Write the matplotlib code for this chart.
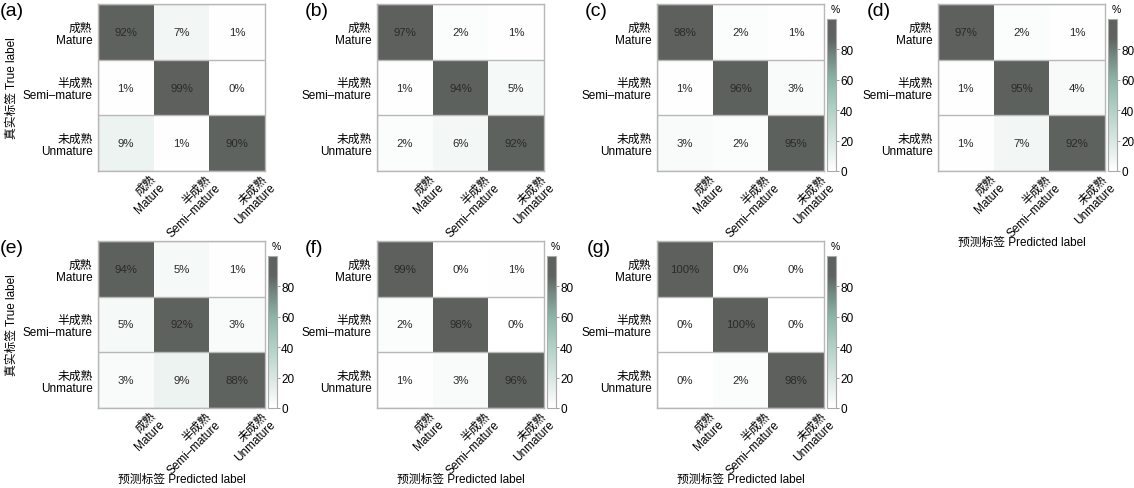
import numpy as np
import matplotlib
matplotlib.use("Agg")
import matplotlib.pyplot as plt
from matplotlib.colors import LinearSegmentedColormap
from matplotlib.transforms import ScaledTranslation

plt.rcParams['font.family'] = ['Liberation Sans', 'Noto Sans CJK SC', 'DejaVu Sans']

# ---- data ----
panel_labels = ['(a)', '(b)', '(c)', '(d)', '(e)', '(f)', '(g)']
class_labels = ['成熟\nMature', '半成熟\nSemi–mature', '未成熟\nUnmature']
cm_a = [[92, 7, 1], [1, 99, 0], [9, 1, 90]]
cm_b = [[97, 2, 1], [1, 94, 5], [2, 6, 92]]
cm_c = [[98, 2, 1], [1, 96, 3], [3, 2, 95]]
cm_d = [[97, 2, 1], [1, 95, 4], [1, 7, 92]]
cm_e = [[94, 5, 1], [5, 92, 3], [3, 9, 88]]
cm_f = [[99, 0, 1], [2, 98, 0], [1, 3, 96]]
cm_g = [[100, 0, 0], [0, 100, 0], [0, 2, 98]]
matrices = [cm_a, cm_b, cm_c, cm_d, cm_e, cm_f, cm_g]
cbar_ticks = [0, 20, 40, 60, 80]
ylabel_text = '真实标签 True label'
xlabel_text = '预测标签 Predicted label'

# ---- layout (pixels) ----
W, H = 1134, 489
fig = plt.figure(figsize=(W / 100, H / 100), dpi=100)

cmap = LinearSegmentedColormap.from_list('cm', [
    (0.0, '#ffffff'), (0.2, '#d8e6e1'), (0.4, '#b2d1c6'),
    (0.6, '#8cb5a7'), (0.75, '#748a82'), (0.87, '#5f6460'), (1.0, '#5d605d')])

lefts = [98, 377, 657, 938, 98, 377, 657]
tops = [5, 5, 5, 5, 242, 242, 242]
label_dx = [98, 72, 72, 71, 98, 72, 70]
size = 167
has_cbar = [False, False, True, True, True, True, True]
has_ylabel = [True, False, False, False, True, False, False]
has_xlabel = [False, False, False, True, True, True, True]
grid_col = '#b8b8b8'
fs = 8.5

def fr(x, y, w, h):
    return [x / W, 1 - (y + h) / H, w / W, h / H]

shift = ScaledTranslation(-4 / 100, 0 / 100, fig.dpi_scale_trans)

for k, mat in enumerate(matrices):
    m = np.array(mat, dtype=float)
    ax = fig.add_axes(fr(lefts[k], tops[k], size, size))
    im = ax.imshow(m, cmap=cmap, vmin=0, vmax=100, aspect='auto')
    for i in range(3):
        for j in range(3):
            ax.text(j, i, f'{int(m[i, j])}%', ha='center', va='center',
                    fontsize=8.2, color='#2a2a2a')
    ax.set_xticks(np.arange(-0.5, 3, 1), minor=True)
    ax.set_yticks(np.arange(-0.5, 3, 1), minor=True)
    ax.grid(which='minor', color=grid_col, lw=1)
    ax.tick_params(which='both', length=0)
    ax.set_xticks([0.5, 1.5, 2.5])
    ax.set_xticklabels(class_labels, rotation=45, ha='right', va='top',
                       rotation_mode='anchor', fontsize=fs, linespacing=1.05)
    ax.set_yticks([0, 1, 2])
    ax.set_yticklabels(class_labels, fontsize=fs, linespacing=1.05,
                       multialignment='right')
    ax.tick_params(axis='y', pad=4)
    ax.tick_params(axis='x', pad=1)
    for lab in ax.get_xticklabels():
        lab.set_transform(lab.get_transform() + shift)
    for s in ax.spines.values():
        s.set_color(grid_col)
        s.set_linewidth(1)
    fig.text((lefts[k] - label_dx[k]) / W, 1 - (tops[k] - 2) / H,
             panel_labels[k], fontsize=14, ha='left', va='top')
    if has_ylabel[k]:
        ax.set_ylabel(ylabel_text, fontsize=fs, va='center')
        ax.yaxis.set_label_coords(-0.515, 0.5)
    if has_xlabel[k]:
        ax.set_xlabel(xlabel_text, fontsize=fs, va='center')
        ax.xaxis.set_label_coords(0.5, -0.425)
    if has_cbar[k]:
        cax = fig.add_axes(fr(lefts[k] + size + 3, tops[k] + 15, 9, size - 15))
        cb = fig.colorbar(im, cax=cax, ticks=cbar_ticks)
        cb.outline.set_edgecolor('#aaaaaa')
        cb.outline.set_linewidth(0.8)
        cax.tick_params(labelsize=fs, length=2, width=0.6, color='#888888', pad=1)
        cax.text(0.95, 1.03, '%', transform=cax.transAxes, ha='center',
                 va='bottom', fontsize=7.5)

fig.savefig('out.png', dpi=100)
